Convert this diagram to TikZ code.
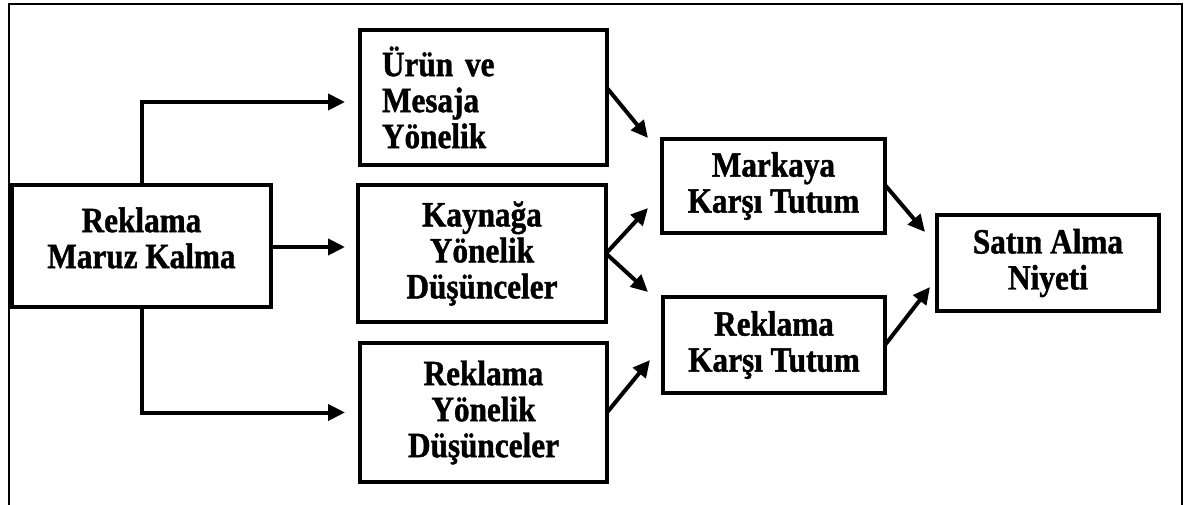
\documentclass[tikz,border=0pt]{standalone}
\usepackage{fontspec}
\setmainfont{Liberation Serif}[FakeStretch=0.88]
\newfontfamily\boxfont{Liberation Serif}[FakeStretch=0.88, BoldFont={* Bold}, BoldFeatures={FakeBold=1.2}]
\usetikzlibrary{arrows.meta}
\begin{document}
\begin{tikzpicture}[x=1pt,y=-1pt,
  box/.style={draw, line width=4.8pt, inner sep=0pt, outer sep=0pt,
    align=center, font=\boxfont\fontsize{35.5}{36}\selectfont\bfseries},
  lbl/.style={align=center, inner sep=0pt, font=\boxfont\fontsize{35.5}{36}\selectfont\bfseries},
  arr/.style={line width=4pt, -{Triangle[length=17pt,width=16pt]}},
  frame/.style={line width=2.2pt}]
\useasboundingbox (0,0) rectangle (1191,505);
% outer frame, open at the bottom
\draw[frame] (9,506) -- (9,4) -- (1182,4) -- (1182,506);

% boxes
\node[box, minimum width=259pt, minimum height=122pt] (A) at (141.5,246) {};
\node[lbl] (Atxt) at ([yshift=8pt]A.center) {Reklama\\Maruz Kalma};
\node[box, minimum width=247pt, minimum height=135pt, align=left,
  text width=203pt, inner xsep=22pt] (B1) at (483.5,97.5) {Ürün ve\\Mesaja\\Yönelik};
\node[box, minimum width=248pt, minimum height=137pt] (B2) at (482,253.5) {Kaynağa\\Yönelik\\Düşünceler};
\node[box, minimum width=247pt, minimum height=139pt] (B3) at (483.5,412.5) {Reklama\\Yönelik\\Düşünceler};
\node[box, minimum width=223pt, minimum height=94pt] (C1) at (773.5,186) {Markaya\\Karşı Tutum};
\node[box, minimum width=222pt, minimum height=96pt] (C2) at (774,345) {Reklama\\Karşı Tutum};
\node[box, minimum width=222pt, minimum height=96pt] (D) at (1048,263) {Satın Alma\\Niyeti};

% connectors from the exposure box
\draw[arr, shorten >=15pt] (A.north) |- ([yshift=-4.5pt]B1.west);
\draw[arr, shorten >=13pt] ([yshift=-1pt]A.east) -- ([yshift=-1pt]A.east -| B2.west);
\draw[arr, shorten >=15pt] (A.south) |- (B3.west);

% connectors to the attitude boxes
\draw[arr] ([yshift=9.5pt]B1.east) -- ([xshift=-14pt,yshift=1pt]C1.north west);
\draw[arr] (B2.east) -- ([xshift=-14pt,yshift=-22pt]C1.west);
\draw[arr] (B2.east) -- ([xshift=-15pt,yshift=5pt]C2.north west);
\draw[arr] (B3.east) -- ([xshift=-13pt,yshift=-15pt]C2.west);

% connectors to the purchase intention box
\draw[arr] ([yshift=1pt]C1.east) -- ([xshift=-12pt,yshift=31pt]D.west);
\draw[arr] (C2.east) -- ([xshift=-7pt,yshift=-24pt]D.west);
\end{tikzpicture}
\end{document}
